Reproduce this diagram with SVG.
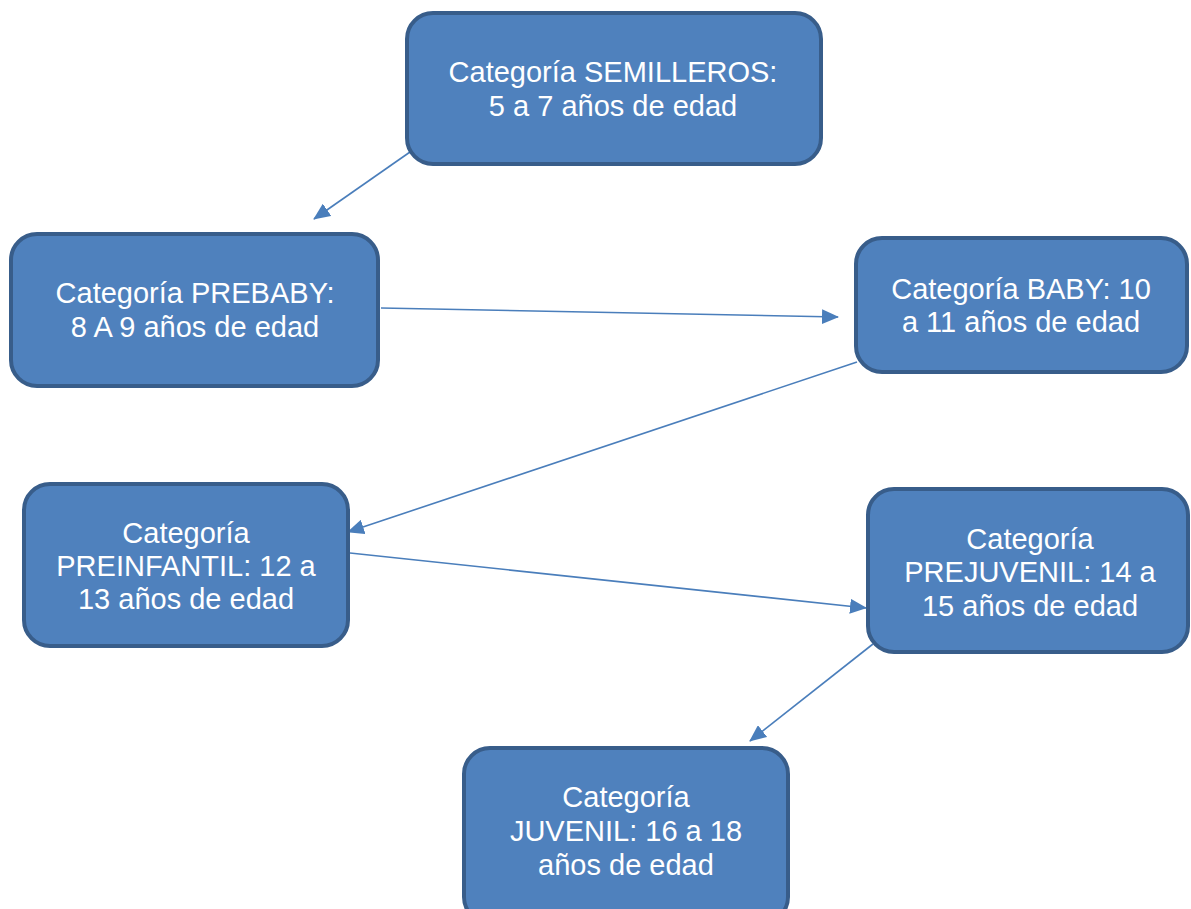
<svg xmlns="http://www.w3.org/2000/svg" width="1191" height="909" viewBox="0 0 1191 909">
<style>
.box{fill:#4f81bd;stroke:#385d8a;stroke-width:4}
.t{font-family:"Liberation Sans",Arial,sans-serif;font-size:29px;fill:#ffffff;text-anchor:middle}
.c{stroke:#4a7ebb;stroke-width:1.6;fill:none;marker-end:url(#ah)}
</style>
<defs>
<marker id="ah" markerWidth="17" markerHeight="15" refX="16" refY="7.5" orient="auto" markerUnits="userSpaceOnUse">
<path d="M0,0 L17,7.5 L0,15 Z" fill="#4a7ebb"/>
</marker>
</defs>
<rect width="1191" height="909" fill="#ffffff"/>
<g id="connectors">
<line class="c" x1="410" y1="152" x2="314" y2="219"/>
<line class="c" x1="381" y1="308" x2="838" y2="317"/>
<line class="c" x1="857" y1="362" x2="348" y2="532"/>
<line class="c" x1="350" y1="553" x2="866" y2="608"/>
<line class="c" x1="873" y1="644" x2="750" y2="741"/>
</g>
<g id="semilleros">
<rect class="box" x="407" y="13" width="414" height="151" rx="26"/>
<text class="t" x="613" y="82">Categoría SEMILLEROS:</text>
<text class="t" x="613" y="116">5 a 7 años de edad</text>
</g>
<g id="prebaby">
<rect class="box" x="11" y="234" width="367" height="152" rx="26"/>
<text class="t" x="195" y="303">Categoría PREBABY:</text>
<text class="t" x="195" y="337">8 A 9 años de edad</text>
</g>
<g id="baby">
<rect class="box" x="856" y="238" width="331" height="134" rx="26"/>
<text class="t" x="1021" y="299">Categoría BABY: 10</text>
<text class="t" x="1021" y="332">a 11 años de edad</text>
</g>
<g id="preinfantil">
<rect class="box" x="24" y="484" width="324" height="162" rx="26"/>
<text class="t" x="186" y="543">Categoría</text>
<text class="t" x="186" y="576">PREINFANTIL: 12 a</text>
<text class="t" x="186" y="609">13 años de edad</text>
</g>
<g id="prejuvenil">
<rect class="box" x="868" y="489" width="320" height="163" rx="26"/>
<text class="t" x="1030" y="549">Categoría</text>
<text class="t" x="1030" y="582">PREJUVENIL: 14 a</text>
<text class="t" x="1030" y="616">15 años de edad</text>
</g>
<g id="juvenil">
<rect class="box" x="464" y="748" width="324" height="175" rx="26"/>
<text class="t" x="626" y="807">Categoría</text>
<text class="t" x="626" y="841">JUVENIL: 16 a 18</text>
<text class="t" x="626" y="875">años de edad</text>
</g>
</svg>
